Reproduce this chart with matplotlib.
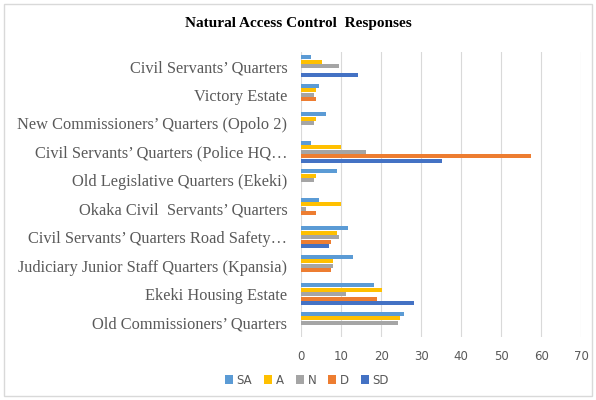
import numpy as np
import matplotlib.pyplot as plt
from matplotlib.patches import Rectangle

# categories, top to bottom as in the chart
categories = [
    "Civil Servants\u2019 Quarters",
    "Victory Estate",
    "New Commissioners\u2019 Quarters (Opolo 2)",
    "Civil Servants\u2019 Quarters (Police HQ\u2026",
    "Old Legislative Quarters (Ekeki)",
    "Okaka Civil  Servants\u2019 Quarters",
    "Civil Servants\u2019 Quarters Road Safety\u2026",
    "Judiciary Junior Staff Quarters (Kpansia)",
    "Ekeki Housing Estate",
    "Old Commissioners\u2019 Quarters",
]
series = ["SA", "A", "N", "D", "SD"]
sa = [2.4, 4.4, 6.3, 2.4, 9.0, 4.4, 11.7, 13.0, 18.1, 25.6]
a = [5.3, 3.6, 3.6, 10.0, 3.6, 10.0, 9.0, 8.0, 20.3, 24.6]
n = [9.5, 3.1, 3.1, 16.2, 3.1, 1.3, 9.5, 8.0, 11.3, 24.3]
d = [0, 3.6, 0, 57.4, 0, 3.6, 7.5, 7.5, 18.9, 0]
sd = [14.3, 0, 0, 35.3, 0, 0, 6.9, 0, 28.3, 0]
colors = ["#5B9BD5", "#FFC000", "#A5A5A5", "#ED7D31", "#4472C4"]

fig = plt.figure(figsize=(5.96, 4.0), dpi=100)
fig.patches.append(Rectangle((0.007, 0.01), 0.986, 0.98, transform=fig.transFigure,
                             fill=False, edgecolor="#d9d9d9", linewidth=1.0))
ax = fig.add_axes([0.5055, 0.1575, 0.4698, 0.7125])

# group centre: first category at top
y = np.arange(len(categories))[::-1]
slot = 0.155
for i, (name, vals, c) in enumerate(zip(series, [sa, a, n, d, sd], colors)):
    ax.barh(y + (2 - i) * slot, vals, height=slot * 0.92, color=c, label=name)

ax.set_xlim(0, 70)
ax.set_ylim(-0.5, 9.5)
ax.set_xticks(range(0, 71, 10))
ax.set_yticks(y)
ax.set_yticklabels(categories, family="Liberation Serif", fontsize=11.8, color="#595959")
ax.tick_params(axis="x", length=0, pad=9, labelsize=8.5, labelcolor="#595959")
ax.tick_params(axis="y", length=0, pad=10)
ax.grid(axis="x", color="#d9d9d9", linewidth=0.8)
ax.set_axisbelow(True)
for s in ax.spines.values():
    s.set_visible(False)

fig.text(0.5, 0.94, "Natural Access Control  Responses", ha="center", va="center",
         family="Liberation Serif", fontweight="bold", fontsize=11)

fig.legend(loc="center", bbox_to_anchor=(0.515, 0.05), ncol=5, frameon=False,
           fontsize=8.5, labelcolor="#595959", handlelength=0.7, handleheight=0.7,
           handletextpad=0.3, columnspacing=1.0)

fig.savefig("out.png", dpi=100)
